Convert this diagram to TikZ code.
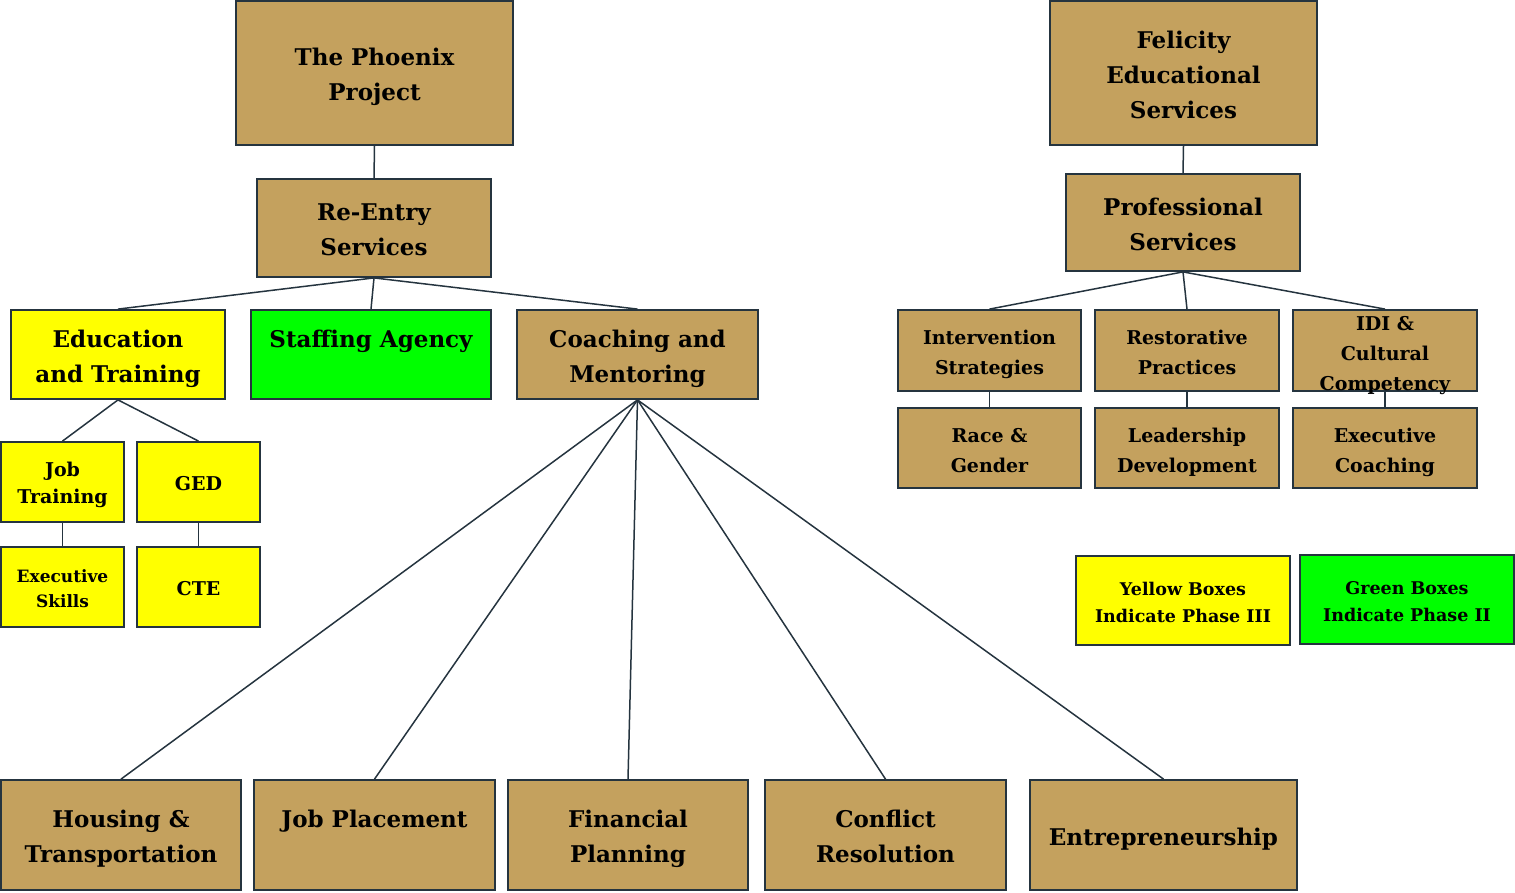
\documentclass[tikz,border=0pt]{standalone}
\usepackage{fontspec}
\setmainfont{DejaVu Serif}
\definecolor{tan}{HTML}{C4A15E}
\definecolor{bord}{HTML}{25343F}
\definecolor{yel}{HTML}{FFFF00}
\definecolor{grn}{HTML}{00FF00}
\newcommand{\boxtxt}[1]{\begin{tabular}{@{}c@{}}\noalign{\vskip 6pt}#1\end{tabular}}
\tikzset{
  box/.style={draw=bord, line width=1.8pt, inner sep=0pt, text=black},
  tanbox/.style={box, fill=tan},
  yelbox/.style={box, fill=yel},
  grnbox/.style={box, fill=grn},
  fbig/.style={font=\bfseries\fontsize{23}{35}\selectfont},
  fmid/.style={font=\bfseries\fontsize{19}{30}\selectfont},
  fsm/.style={font=\bfseries\fontsize{19}{27}\selectfont},
  fxs/.style={font=\bfseries\fontsize{17}{25}\selectfont},
  fleg/.style={font=\bfseries\fontsize{17.5}{27}\selectfont},
  conn/.style={draw=bord, line width=1.5pt},
}
\begin{document}
\begin{tikzpicture}[x=1pt,y=-1pt]
\useasboundingbox (0,0) rectangle (1515,892);
% left tree
\node[tanbox,fbig,minimum width=277pt,minimum height=144pt] (phoenix) at (374.5,73) {\boxtxt{The Phoenix\\Project}};
\node[tanbox,fbig,minimum width=234pt,minimum height=98pt] (reentry) at (374,228) {\boxtxt{Re-Entry\\Services}};
\node[yelbox,fbig,minimum width=214pt,minimum height=89pt] (edu) at (118,354.5) {\boxtxt{Education\\and Training}};
\node[grnbox,fbig,minimum width=240pt,minimum height=89pt] (staff) at (371,354.5) {\boxtxt{Staffing Agency\\\mbox{}}};
\node[tanbox,fbig,minimum width=241pt,minimum height=89pt] (coach) at (637.5,354.5) {\boxtxt{Coaching and\\Mentoring}};
\node[yelbox,fsm,minimum width=123pt,minimum height=80pt] (jobtr) at (62.5,482) {\boxtxt{Job\\Training}};
\node[yelbox,fsm,minimum width=123pt,minimum height=80pt] (ged) at (198.5,482) {\boxtxt{GED}};
\node[yelbox,fxs,minimum width=123pt,minimum height=80pt] (exskills) at (62.5,587) {\boxtxt{Executive\\Skills}};
\node[yelbox,fsm,minimum width=123pt,minimum height=80pt] (cte) at (198.5,587) {\boxtxt{CTE}};
\node[tanbox,fbig,minimum width=240pt,minimum height=110pt] (housing) at (121,835) {\boxtxt{Housing \&\\Transportation}};
\node[tanbox,fbig,minimum width=241pt,minimum height=110pt] (jobpl) at (374.5,835) {\boxtxt{Job Placement\\\mbox{}}};
\node[tanbox,fbig,minimum width=240pt,minimum height=110pt] (fin) at (628,835) {\boxtxt{Financial\\Planning}};
\node[tanbox,fbig,minimum width=241pt,minimum height=110pt] (conflict) at (885.5,835) {\boxtxt{Conflict\\Resolution}};
\node[tanbox,fbig,minimum width=267pt,minimum height=110pt] (entre) at (1163.5,835) {\boxtxt{Entrepreneurship}};
% right tree
\node[tanbox,fbig,minimum width=267pt,minimum height=144pt] (felicity) at (1183.5,73) {\boxtxt{Felicity\\Educational\\Services}};
\node[tanbox,fbig,minimum width=234pt,minimum height=97pt] (prof) at (1183,222.5) {\boxtxt{Professional\\Services}};
\node[tanbox,fmid,minimum width=183pt,minimum height=81pt] (interv) at (989.5,350.5) {\boxtxt{Intervention\\Strategies}};
\node[tanbox,fmid,minimum width=184pt,minimum height=81pt] (restor) at (1187,350.5) {\boxtxt{Restorative\\Practices}};
\node[tanbox,fmid,minimum width=184pt,minimum height=81pt] (idi) at (1385,350.5) {\smash{\raisebox{-8pt}{\begin{tabular}{@{}c@{}}IDI \&\\Cultural\\Competency\end{tabular}}}};
\node[tanbox,fmid,minimum width=183pt,minimum height=80pt] (race) at (989.5,448) {\boxtxt{Race \&\\Gender}};
\node[tanbox,fmid,minimum width=184pt,minimum height=80pt] (lead) at (1187,448) {\boxtxt{Leadership\\Development}};
\node[tanbox,fmid,minimum width=184pt,minimum height=80pt] (excoach) at (1385,448) {\boxtxt{Executive\\Coaching}};
% legend
\node[yelbox,fleg,minimum width=214pt,minimum height=89pt] (legy) at (1183,600.5) {\boxtxt{Yellow Boxes\\Indicate Phase III}};
\node[grnbox,fleg,minimum width=214pt,minimum height=89pt] (legg) at (1407,599.5) {\boxtxt{Green Boxes\\Indicate Phase II}};
% connectors
\draw[conn] (phoenix.south) -- (reentry.north);
\draw[conn] (reentry.south) -- (edu.north);
\draw[conn] (reentry.south) -- (staff.north);
\draw[conn] (reentry.south) -- (coach.north);
\draw[conn] (edu.south) -- (jobtr.north);
\draw[conn] (edu.south) -- (ged.north);
\draw[conn] (jobtr.south) -- (exskills.north);
\draw[conn] (ged.south) -- (cte.north);
\draw[conn] (coach.south) -- (housing.north);
\draw[conn] (coach.south) -- (jobpl.north);
\draw[conn] (coach.south) -- (fin.north);
\draw[conn] (coach.south) -- (conflict.north);
\draw[conn] (coach.south) -- (entre.north);
\draw[conn] (felicity.south) -- (prof.north);
\draw[conn] (prof.south) -- (interv.north);
\draw[conn] (prof.south) -- (restor.north);
\draw[conn] (prof.south) -- (idi.north);
\draw[conn] (interv.south) -- (race.north);
\draw[conn] (restor.south) -- (lead.north);
\draw[conn] (idi.south) -- (excoach.north);
\end{tikzpicture}
\end{document}
